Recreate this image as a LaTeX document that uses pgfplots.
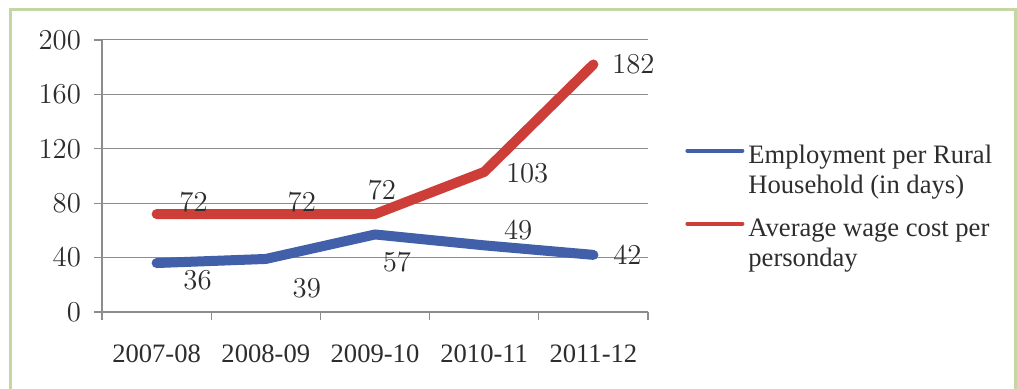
\documentclass[border=0pt]{standalone}
\usepackage{pgfplots}
\usepackage{pgfplotstable}
\pgfplotsset{compat=1.18}
\usepackage{fontspec}
\setmainfont{Liberation Serif}
\definecolor{ser1}{RGB}{66,96,170}
\definecolor{ser2}{RGB}{205,62,56}
\definecolor{txt}{RGB}{45,45,45}
\definecolor{grd}{RGB}{140,140,140}
\definecolor{frm}{RGB}{196,214,164}
\pgfplotstableread{
x y dx dy
0 36 20.5 -8.5
1 39 20.5 -14.5
2 57 11 -14
3 49 17 7.5
4 42 17 0
}\tblue
\pgfplotstableread{
x y dx dy
0 72 18.5 6
1 72 18 6
2 72 3.5 12
3 103 21.5 -0.5
4 182 20 0
}\tred
\begin{document}
\begin{tikzpicture}[x=1pt,y=1pt]
\useasboundingbox (0,0) rectangle (508.5,194.5);
\fill[white] (0,0) rectangle (508.5,194.5);
\draw[frm, line width=1.5pt] (5,-10) rectangle (507.5,189.5);
\begin{axis}[
  at={(51pt,38.5pt)}, anchor=south west,
  scale only axis, width=273pt, height=136pt,
  xmin=-0.5, xmax=4.5, ymin=0, ymax=200,
  ytick={0,40,...,200},
  ymajorgrids, grid style={grd, line width=0.5pt},
  axis lines*=left,
  axis line style={grd, line width=0.6pt},
  xtick={0,...,4},
  xticklabels={2007-08,2008-09,2009-10,2010-11,2011-12},
  minor xtick={-0.5,0.5,1.5,2.5,3.5,4.5},
  major x tick style={draw=none},
  tick align=outside,
  major tick length=4pt, minor tick length=4pt,
  tick style={grd, line width=0.6pt},
  ticklabel style={font=\fontsize{13.3}{15}\selectfont, text=txt},
  y tick label style={xshift=-3pt},
  x tick label style={yshift=-9pt},
  legend style={draw=none, fill=none, at={(1.0678,0.63)}, anchor=north west,
    font=\fontsize{13.3}{15}\selectfont, text=txt,
    cells={anchor=west, align=left}, row sep=7pt, inner sep=0pt},
  legend image code/.code={\draw[#1, line width=2pt] (0pt,10pt) -- (27.5pt,10pt);},
  nodes near coords,
  point meta=explicit,
  visualization depends on={\thisrow{dx} \as \dx},
  visualization depends on={\thisrow{dy} \as \dy},
  every node near coord/.append style={anchor=center, xshift=\dx pt, yshift=\dy pt,
    font=\fontsize{13.3}{15}\selectfont, text=txt},
]
\addplot[ser1, line width=5pt, line join=round, line cap=round] table[x=x, y=y, meta=y] {\tblue};
\addlegendentry{Employment per Rural\\Household (in days)}
\addplot[ser2, line width=5pt, line join=round, line cap=round] table[x=x, y=y, meta=y] {\tred};
\addlegendentry{Average wage cost per\\personday}
\end{axis}
\end{tikzpicture}
\end{document}
